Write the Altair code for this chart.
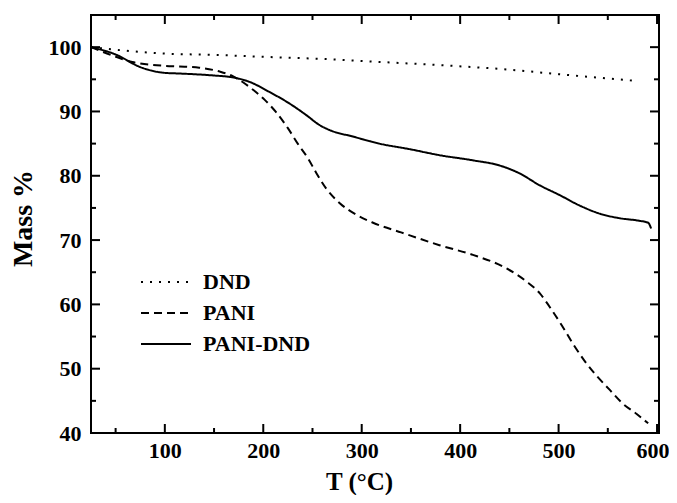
import altair as alt
import pandas as pd

# ---- data ----
dnd_x = [25, 50, 100, 150, 200, 270, 318, 380, 450, 500, 575]
dnd_y = [100, 99.6, 99.0, 98.8, 98.5, 98.1, 97.7, 97.2, 96.5, 95.8, 94.8]

pani_x = [25, 45, 67, 100, 115, 135, 156, 169, 186, 201.5, 213, 225, 235, 245.5,
          254, 264, 278, 295, 311.5, 340, 379, 413, 447, 467, 481, 491, 503,
          514.5, 526, 538, 552, 565, 579, 591]
pani_y = [100, 98.8, 97.7, 97.1, 97.0, 96.8, 96.2, 95.5, 93.8, 91.8, 89.9, 87.4,
          85.0, 82.7, 80.4, 78.0, 75.7, 73.9, 72.7, 71.2, 69.2, 67.7, 65.6, 63.6,
          61.7, 59.6, 56.8, 53.9, 51.3, 49.0, 46.7, 44.6, 43.0, 41.5]

pd_x = [25, 51, 75, 100, 115, 149, 169, 186, 206.6, 227, 244, 257, 267.5, 291,
        318, 350, 379, 413, 440, 460, 481, 501, 521, 542, 562, 582, 591, 594]
pd_y = [100, 98.8, 96.9, 96.0, 95.9, 95.6, 95.3, 94.6, 93.0, 91.2, 89.4, 87.9,
        87.1, 86.1, 85.0, 84.1, 83.2, 82.4, 81.6, 80.4, 78.5, 77.0, 75.4, 74.1,
        73.4, 73.0, 72.7, 71.8]

series_names = ["DND", "PANI", "PANI-DND"]

x_major = [100, 200, 300, 400, 500, 600]
x_minor = [50, 150, 250, 350, 450, 550]
y_major = [40, 50, 60, 70, 80, 90, 100]
y_minor = [45, 55, 65, 75, 85, 95]

X_DOMAIN = [25, 602]
Y_DOMAIN = [40, 105]
W, H = 568, 418
FONT = "Liberation Serif"

rows = []
for name, xs, ys in zip(series_names, [dnd_x, pani_x, pd_x], [dnd_y, pani_y, pd_y]):
    for i, (a, b) in enumerate(zip(xs, ys)):
        rows.append({"T": a, "Mass": b, "Sample": name, "order": i})
df = pd.DataFrame(rows)

xscale = alt.Scale(domain=X_DOMAIN, nice=False, zero=False)
yscale = alt.Scale(domain=Y_DOMAIN, nice=False, zero=False)

lines = alt.Chart(df).mark_line(color="black", strokeWidth=2, interpolate="monotone").encode(
    x=alt.X("T:Q", scale=xscale,
            axis=alt.Axis(title="T (°C)", values=x_major, ticks=False, tickSize=0,
                          domain=False, grid=False, labelPadding=7,
                          labelFlush=5, labelFlushOffset=12,
                          labelFont=FONT, labelFontSize=22, labelFontWeight="bold",
                          labelColor="black", titleFont=FONT, titleFontSize=25,
                          titleFontWeight="bold", titleColor="black",
                          titleX=268, titleY=56, titleAlign="center",
                          titleBaseline="alphabetic")),
    y=alt.Y("Mass:Q", scale=yscale,
            axis=alt.Axis(title="Mass %", values=y_major, ticks=False, tickSize=0,
                          domain=False, grid=False, labelPadding=10,
                          labelFont=FONT, labelFontSize=22, labelFontWeight="bold",
                          labelColor="black", titleFont=FONT, titleFontSize=28,
                          titleFontWeight="bold", titleColor="black",
                          titlePadding=11, titleY=203)),
    strokeDash=alt.StrokeDash(
        "Sample:N",
        scale=alt.Scale(domain=series_names, range=[[2, 7], [8, 5], [1, 0]]),
        sort=series_names,
        legend=alt.Legend(orient="none", legendX=64, legendY=256, title=None,
                          symbolType="M-5,0H5", symbolSize=100, symbolStrokeWidth=2,
                          symbolStrokeColor="black", symbolFillColor="transparent",
                          labelFont=FONT, labelFontSize=22,
                          labelFontWeight="bold", labelColor="black", labelOffset=26,
                          rowPadding=9)),
    order="order:Q",
)

# inward ticks on all four sides
def xticks(vals, length, side):
    d = pd.DataFrame({"v": vals})
    if side == "bottom":
        y1, y2 = alt.value(H), alt.value(H - length)
    else:
        y1, y2 = alt.value(0), alt.value(length)
    return alt.Chart(d).mark_rule(color="black", strokeWidth=2).encode(
        x=alt.X("v:Q", scale=xscale), y=y1, y2=y2)

def yticks(vals, length, side):
    d = pd.DataFrame({"v": vals})
    if side == "left":
        x1, x2 = alt.value(0), alt.value(length)
    else:
        x1, x2 = alt.value(W), alt.value(W - length)
    return alt.Chart(d).mark_rule(color="black", strokeWidth=2).encode(
        y=alt.Y("v:Q", scale=yscale), x=x1, x2=x2)

tick_layers = []
for side in ["bottom", "top"]:
    tick_layers.append(xticks(x_major, 9, side))
    tick_layers.append(xticks(x_minor, 5, side))
for side in ["left", "right"]:
    tick_layers.append(yticks(y_major, 9, side))
    tick_layers.append(yticks(y_minor, 5, side))

chart = alt.layer(lines, *tick_layers).properties(
    width=W, height=H,
    autosize=alt.AutoSizeParams(type="none"),
    padding={"left": 83, "top": 7, "right": 10, "bottom": 62},
    background="white",
).configure_view(stroke="black", strokeWidth=2)

chart.save("out.html", embed_options={"renderer": "svg", "actions": False})
